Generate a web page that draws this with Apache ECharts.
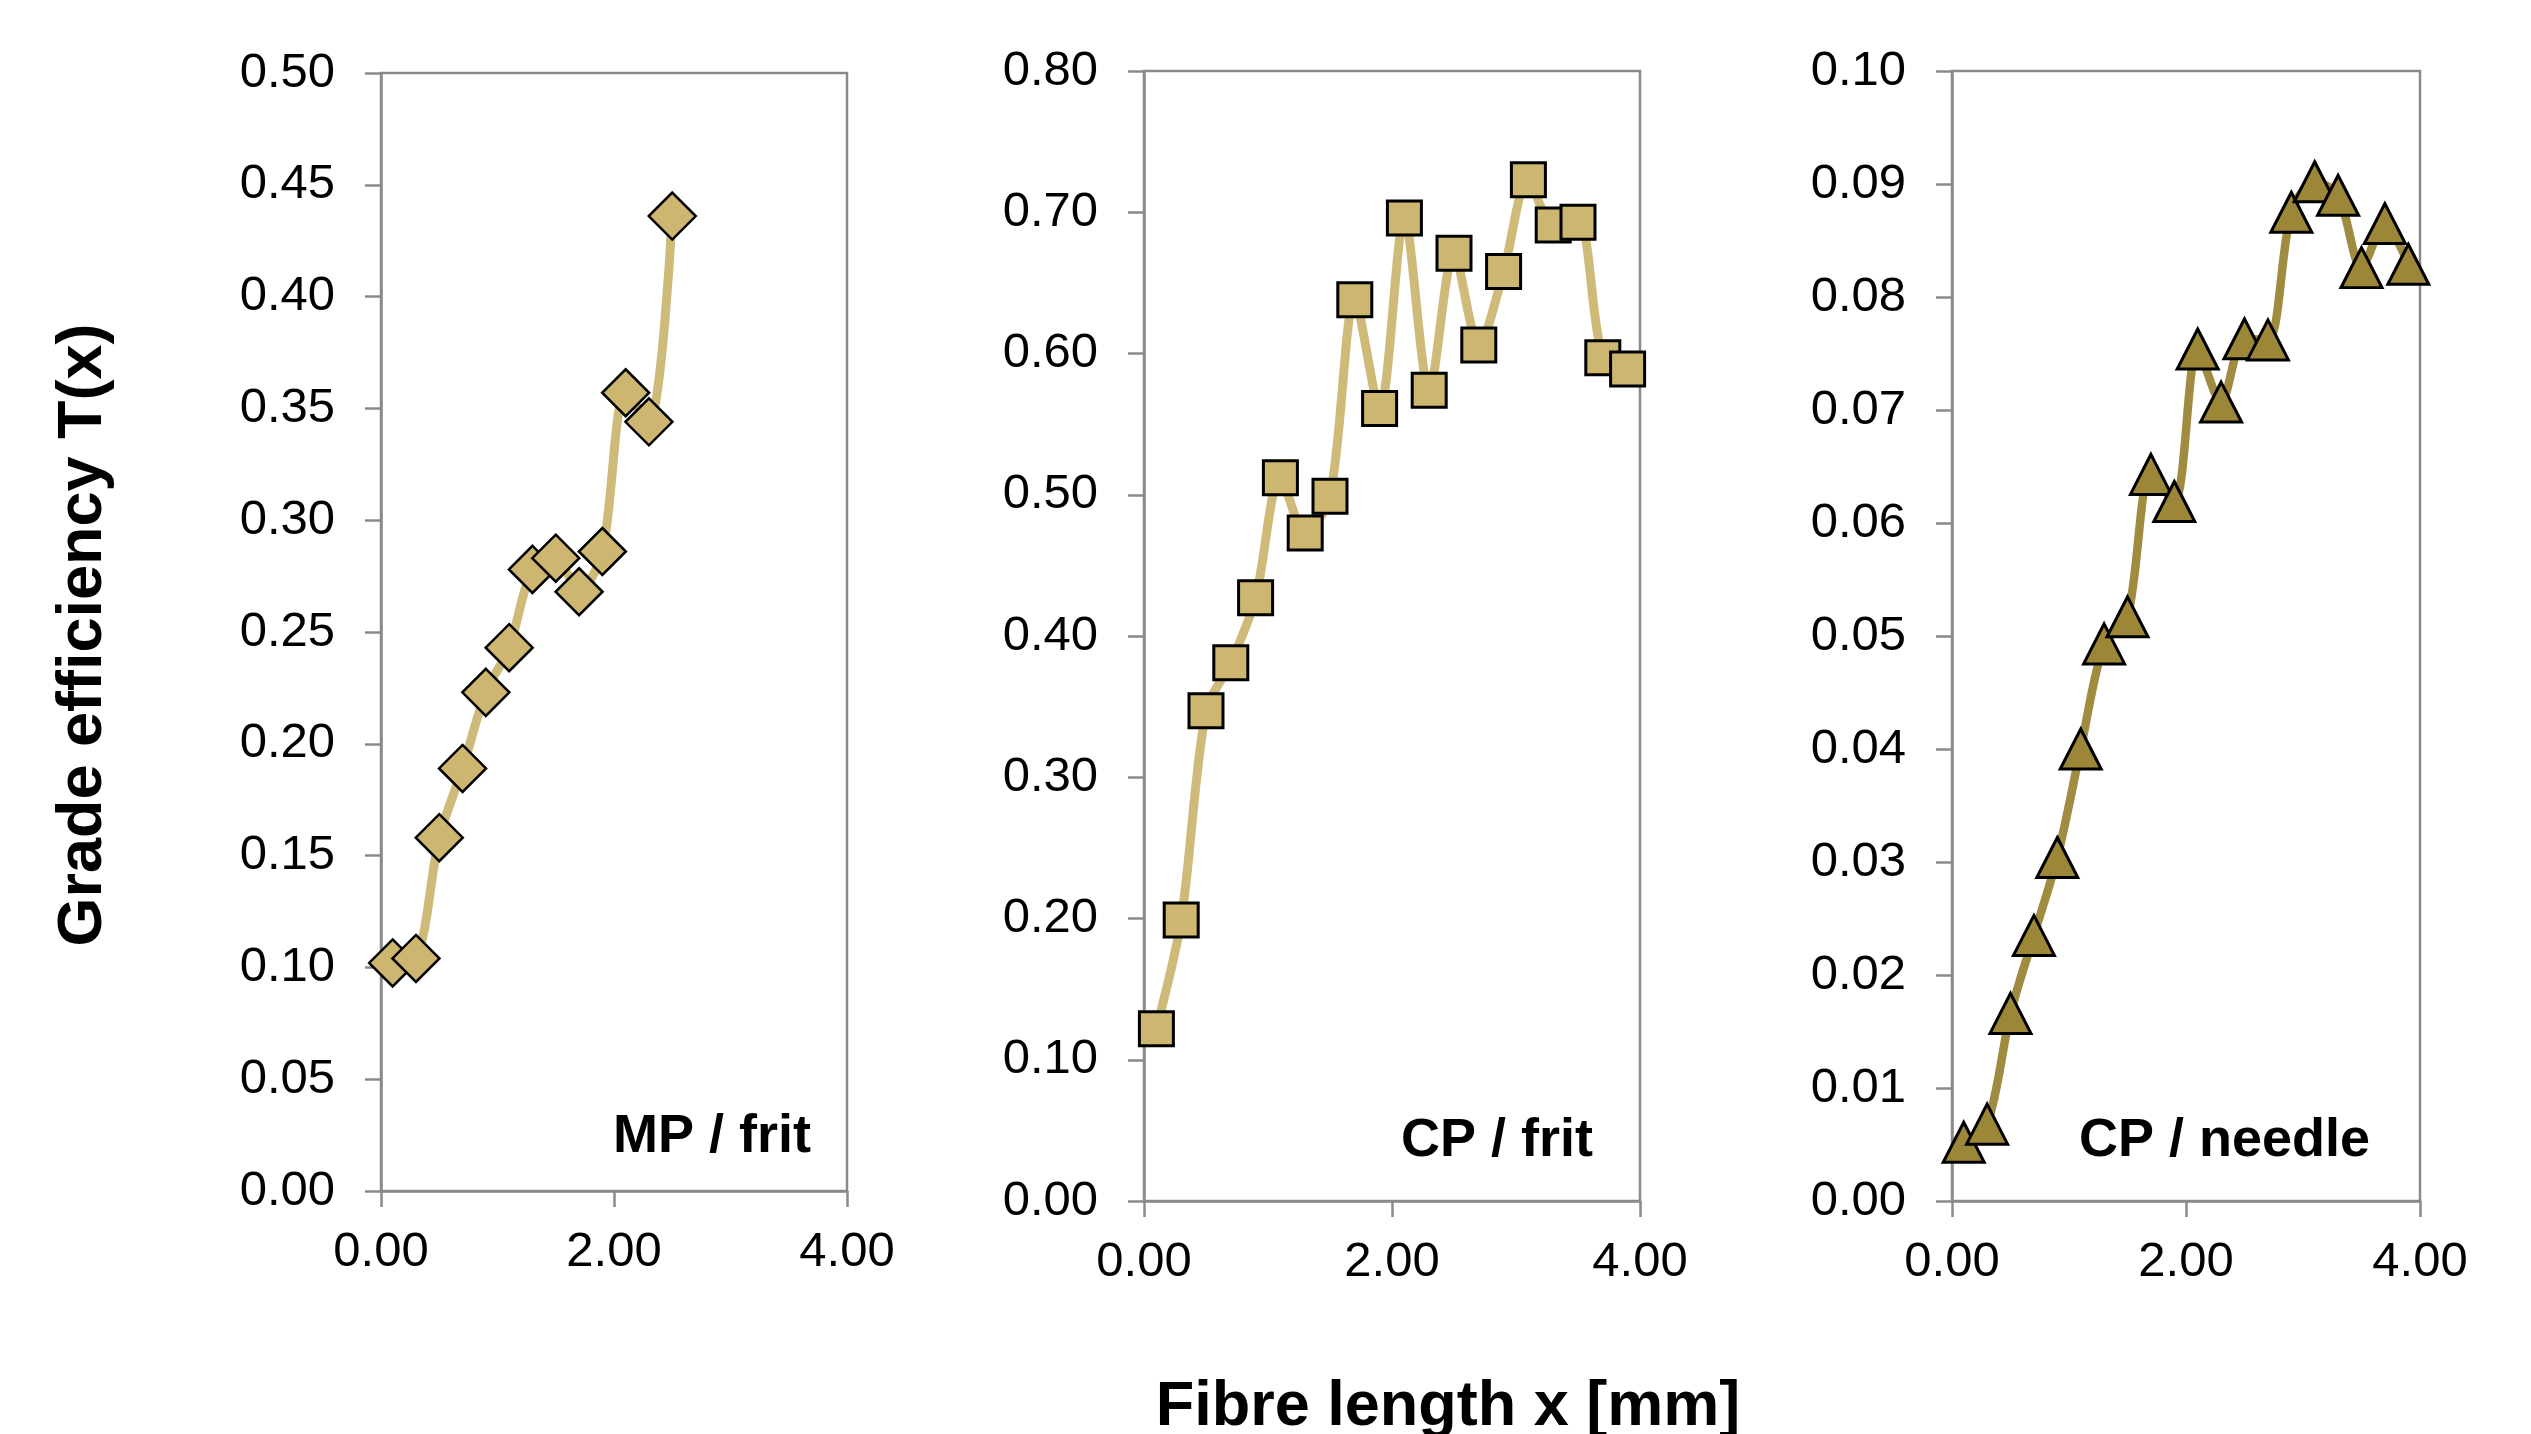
<!DOCTYPE html>
<html>
<head>
<meta charset="utf-8">
<script src="https://cdn.jsdelivr.net/npm/echarts@6/dist/echarts.min.js"></script>
<style>
html,body{margin:0;padding:0;background:#fff;}
#chart{width:2531px;height:1434px;}
</style>
</head>
<body>
<div id="chart"></div>
<script>
// ---- data ----
var xMP = [0.1, 0.3, 0.5, 0.7, 0.9, 1.1, 1.3, 1.5, 1.7, 1.9, 2.1, 2.3, 2.5];
var yMPfrit = [0.102, 0.104, 0.158, 0.189, 0.223, 0.243, 0.278, 0.283, 0.268, 0.286, 0.357, 0.344, 0.436];

var xCP = [0.1, 0.3, 0.5, 0.7, 0.9, 1.1, 1.3, 1.5, 1.7, 1.9, 2.1, 2.3, 2.5, 2.7, 2.9, 3.1, 3.3, 3.5, 3.7, 3.9];
var yCPfrit = [0.122, 0.199, 0.347, 0.381, 0.427, 0.512, 0.473, 0.499, 0.638, 0.561, 0.696, 0.574, 0.671, 0.606, 0.658, 0.723, 0.691, 0.693, 0.597, 0.589];
var yCPneedle = [0.0052, 0.0068, 0.0166, 0.0235, 0.0304, 0.0400, 0.0493, 0.0517, 0.0643, 0.0619, 0.0754, 0.0707, 0.0763, 0.0762, 0.0875, 0.0902, 0.0890, 0.0826, 0.0865, 0.0829];

var panelLabels = ['MP / frit', 'CP / frit', 'CP / needle'];
var yMax = [0.5, 0.8, 0.1];
var yStep = [0.05, 0.1, 0.01];
var xTicks = {min: 0, max: 4, step: 2};
var xTitle = 'Fibre length x [mm]';
var yTitle = 'Grade efficiency T(x)';

// ---- layout / style ----
var FONT = '"Liberation Sans", Arial, sans-serif';
var grids = [
  {left: 381, top: 73, width: 466, height: 1118},
  {left: 1144, top: 71, width: 496, height: 1130},
  {left: 1952, top: 71, width: 468, height: 1130}
];
var tan = '#CDB66F', tanLine = '#CEBB7A', olive = '#9C8738', oliveLine = '#A08C40';

function pairs(xs, ys){ return xs.map(function(x,i){ return [x, ys[i]]; }); }

var option = {
  backgroundColor: '#ffffff',
  animation: false,
  grid: grids.map(function(g){
    return {left: g.left, top: g.top, width: g.width, height: g.height,
      show: true, borderColor: '#8a8a8a', borderWidth: 2.5, backgroundColor: 'transparent'};
  }),
  xAxis: grids.map(function(g, i){
    return {
      type: 'value', gridIndex: i, min: xTicks.min, max: xTicks.max, interval: xTicks.step,
      axisLine: {show: true, lineStyle: {color: '#8a8a8a', width: 2.5}},
      axisTick: {show: true, inside: false, length: 16, lineStyle: {color: '#8a8a8a', width: 2.5}},
      splitLine: {show: false},
      axisLabel: {show: true, margin: 37, color: '#000', fontFamily: FONT, fontSize: 49,
        formatter: function(v){ return v.toFixed(2); }}
    };
  }),
  yAxis: grids.map(function(g, i){
    return {
      type: 'value', gridIndex: i, min: 0, max: yMax[i], interval: yStep[i],
      axisLine: {show: true, lineStyle: {color: '#8a8a8a', width: 2.5}},
      axisTick: {show: true, inside: false, length: 16, lineStyle: {color: '#8a8a8a', width: 2.5}},
      splitLine: {show: false},
      axisLabel: {show: true, margin: 46, color: '#000', fontFamily: FONT, fontSize: 49,
        formatter: function(v){ return v.toFixed(2); }}
    };
  }),
  series: [
    {
      type: 'line', xAxisIndex: 0, yAxisIndex: 0, data: pairs(xMP, yMPfrit),
      smooth: 0.3, symbol: 'diamond', symbolSize: [47, 47],
      lineStyle: {color: tanLine, width: 9},
      itemStyle: {color: tan, borderColor: '#000', borderWidth: 2.5}
    },
    {
      type: 'line', xAxisIndex: 1, yAxisIndex: 1, data: pairs(xCP, yCPfrit),
      smooth: 0.3, symbol: 'rect', symbolSize: [34, 34],
      lineStyle: {color: tanLine, width: 9},
      itemStyle: {color: tan, borderColor: '#000', borderWidth: 3}
    },
    {
      type: 'line', xAxisIndex: 2, yAxisIndex: 2, data: pairs(xCP, yCPneedle),
      smooth: 0.3, symbol: 'triangle', symbolSize: [41, 40],
      lineStyle: {color: oliveLine, width: 8.5},
      itemStyle: {color: olive, borderColor: '#000', borderWidth: 3}
    }
  ],
  graphic: [
    {type: 'text', x: 811, y: 1137, style: {text: panelLabels[0], fill: '#000', font: 'bold 54px ' + FONT, textAlign: 'right', textVerticalAlign: 'middle'}},
    {type: 'text', x: 1593, y: 1141, style: {text: panelLabels[1], fill: '#000', font: 'bold 54px ' + FONT, textAlign: 'right', textVerticalAlign: 'middle'}},
    {type: 'text', x: 2370, y: 1141, style: {text: panelLabels[2], fill: '#000', font: 'bold 54px ' + FONT, textAlign: 'right', textVerticalAlign: 'middle'}},
    {type: 'text', x: 1448, y: 1408, style: {text: xTitle, fill: '#000', font: 'bold 63px ' + FONT, textAlign: 'center', textVerticalAlign: 'middle'}},
    {type: 'text', x: 84, y: 635, rotation: Math.PI / 2, style: {text: yTitle, fill: '#000', font: 'bold 63px ' + FONT, textAlign: 'center', textVerticalAlign: 'middle'}}
  ]
};

var chart = echarts.init(document.getElementById('chart'), null, {renderer: 'canvas'});
chart.setOption(option);
</script>
</body>
</html>
